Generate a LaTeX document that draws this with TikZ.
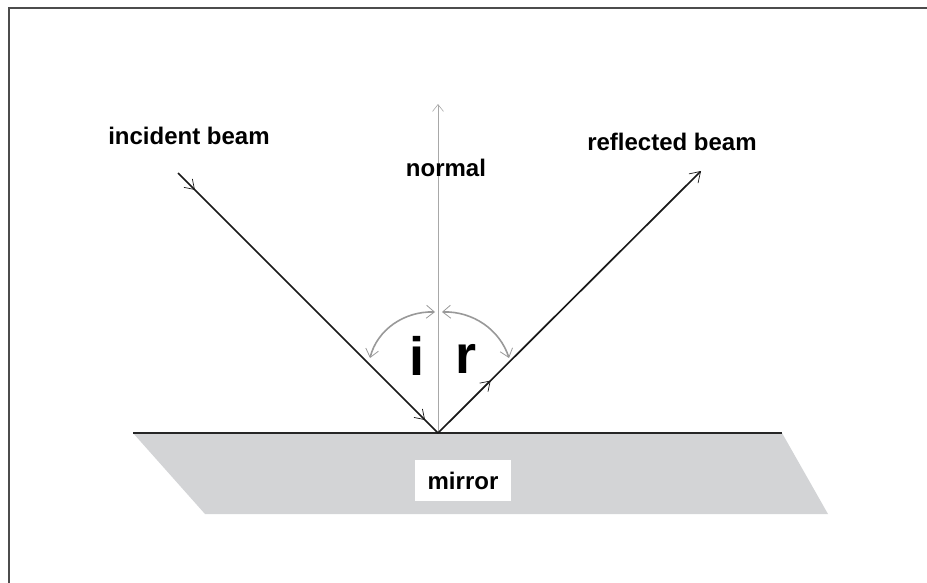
\documentclass[tikz,border=0pt]{standalone}
\usepackage{fontspec}
\setmainfont{Liberation Sans}
\usetikzlibrary{arrows.meta,decorations.markings}
\definecolor{mirrorgray}{HTML}{D3D4D6}
\definecolor{arcgray}{HTML}{999999}
\definecolor{normgray}{HTML}{A8A8A8}
\tikzset{
  beam/.style={line width=1.7pt, black!90},
  midarrow/.style={postaction={decorate,decoration={markings,
     mark=at position #1 with {\arrow{Straight Barb[length=9pt,width=12pt,line width=0.7pt]}}}}},
  lbl/.style={font=\fontsize{24}{26}\selectfont, inner sep=0pt},
  anglelbl/.style={font=\fontsize{54}{58}\selectfont\bfseries, inner sep=0pt},
  angarc/.style={draw=arcgray, line width=1.6pt,
     {Straight Barb[length=8pt,width=13pt,line width=0.8pt]}-{Straight Barb[length=8pt,width=13pt,line width=0.8pt]}},
}
\begin{document}
\begin{tikzpicture}[x=1pt,y=-1pt]
\useasboundingbox (0,0) rectangle (927,583);
% frame
\draw[line width=1.1pt, black!70] (9,583) -- (9,8) -- (927,8);
% mirror
\coordinate (ML) at (133,433);
\coordinate (MR) at (782,433);
\coordinate (O) at (438,433);
\fill[mirrorgray] (ML) -- (MR) -- (828,514) -- (205,514) -- cycle;
\draw[line width=2.2pt, black!85] (ML) -- (MR);
\node[fill=white, minimum width=96pt, minimum height=41pt, inner sep=0pt] (mirror) at (463,480.5) {};
\node[lbl] (mirrortxt) at (463,481) {\bfseries mirror};
% normal
\coordinate (N) at (438,104);
\draw[normgray, line width=0.9pt, -{Straight Barb[length=7pt,width=11pt,line width=0.6pt]}] (O) -- (N);
% beams
\coordinate (I) at (178,173);
\coordinate (R) at (701,171);
\draw[beam, midarrow=0.065, midarrow=0.95] (I) -- (O);
\draw[beam, midarrow=0.2, {}-{Straight Barb[length=10pt,width=13pt,line width=0.7pt]}] (O) -- (R);
% angle arcs
\coordinate (A1) at (435,312);
\coordinate (A2) at (370,358);
\coordinate (B1) at (442,312);
\coordinate (B2) at (509,358);
\draw[angarc] (A1) .. controls (404,311) and (377,330) .. (A2);
\draw[angarc] (B1) .. controls (473,311) and (500,330) .. (B2);
% labels
\node[anglelbl] (ilbl) at (417,356) {i};
\node[anglelbl] (rlbl) at (466,359) {r};
\node[lbl] (inc) at (189,136) {\bfseries incident beam};
\node[lbl] (nor) at (446,168) {\bfseries normal};
\node[lbl] (ref) at (672,142) {\bfseries reflected beam};
\end{tikzpicture}
\end{document}
